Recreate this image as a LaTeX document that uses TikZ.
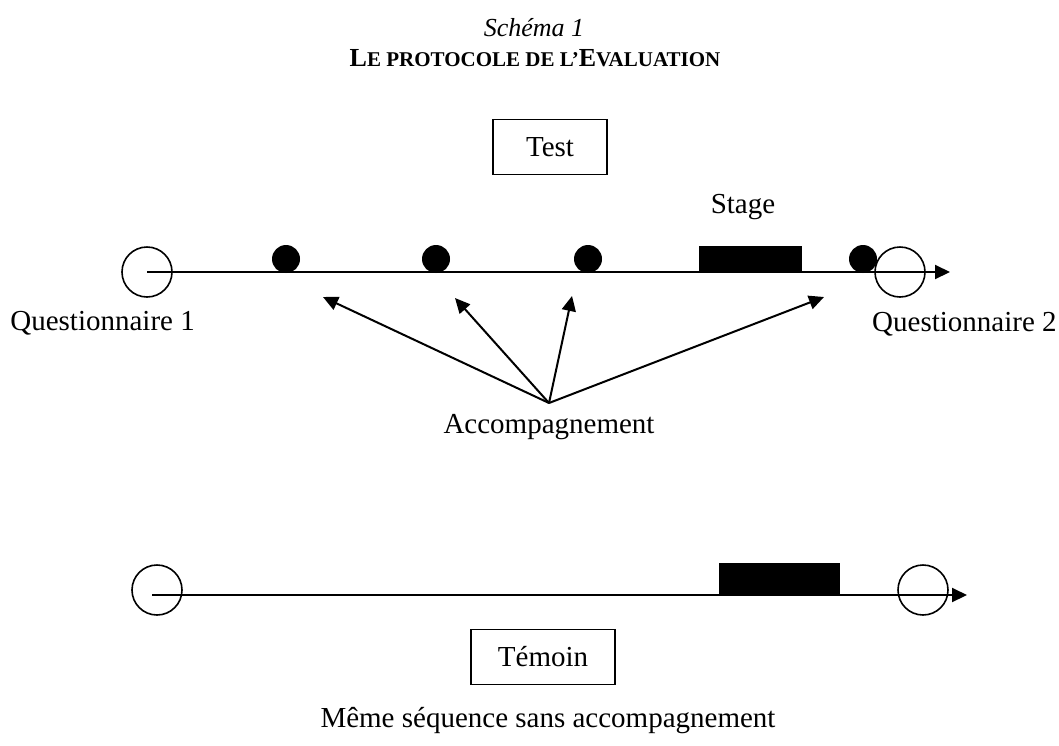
\documentclass[tikz,border=0pt]{standalone}
\usepackage{fontspec}
\setmainfont{Liberation Serif}
\usetikzlibrary{arrows.meta}

\begin{document}
\begin{tikzpicture}[x=0.5pt, y=-0.5pt, >={Triangle[length=7.5pt, width=7pt]},
        every node/.style={font=\fontsize{14.5}{17}\selectfont},
        ques/.style={circle, draw, line width=0.8pt, minimum size=25pt, inner sep=0pt},
        dot/.style={circle, fill, minimum size=14pt, inner sep=0pt},
        bloc/.style={rectangle, draw, fill, line width=0.4pt, inner sep=0pt, anchor=south},
        cadre/.style={rectangle, draw, line width=0.9pt, minimum height=27.5pt}]
        \useasboundingbox (0,0) rectangle (1059,745);

        \node[anchor=base, font=\fontsize{13}{15}\selectfont\itshape] (titre) at (534,36) {Schéma 1};
        \node[anchor=base, font=\fontsize{13}{15}\selectfont\bfseries] (soustitre) at (535,66)
            {L{\fontsize{10.5}{12}\selectfont E PROTOCOLE DE L’}E{\fontsize{10.5}{12}\selectfont VALUATION}};

        % groupe test
        \node[cadre, minimum width=57pt] (test) at (550,147) {Test};
        \node[ques] (q1) at (147,272) {};
        \node[ques] (q2) at (900,272) {};
        \node[dot] (d1) at (286,259) {};
        \node[dot] (d2) at (436,259) {};
        \node[dot] (d3) at (588,259) {};
        \node[dot] (d4) at (863,259) {};
        \node[bloc, minimum width=51pt, minimum height=12.5pt] (stage) at (750,272) {};
        \node[anchor=base] (stagelbl) at (743,213) {Stage};
        \coordinate (fin) at (950,272);
        \draw[line width=1pt, ->] (q1.center) -- (fin);
        \node[anchor=base west, inner sep=0pt] (quest1) at (10,330) {Questionnaire 1};
        \node[anchor=base east, inner sep=0pt] (quest2) at (1057,331) {Questionnaire 2};

        \node[anchor=base] (acc) at (549,433) {Accompagnement};
        \coordinate (src) at (549,403);
        \coordinate (t1) at (323,297);
        \coordinate (t2) at (455,298);
        \coordinate (t3) at (572,296);
        \coordinate (t4) at (824,297);
        \path[->, line width=1pt]
        (src) edge (t1)
              edge (t2)
              edge (t3)
              edge (t4);

        % groupe temoin
        \node[ques] (r1) at (157,590) {};
        \node[ques] (r2) at (923,590) {};
        \node[bloc, minimum width=60pt, minimum height=15.5pt] (stage2) at (779,595) {};
        \coordinate (deb2) at (152,595);
        \coordinate (fin2) at (967,595);
        \draw[line width=1pt, ->] (deb2) -- (fin2);
        \node[cadre, minimum width=72pt] (temoin) at (543,657) {Témoin};
        \node[anchor=base] (meme) at (548,727) {Même séquence sans accompagnement};
    \end{tikzpicture}
\end{document}
